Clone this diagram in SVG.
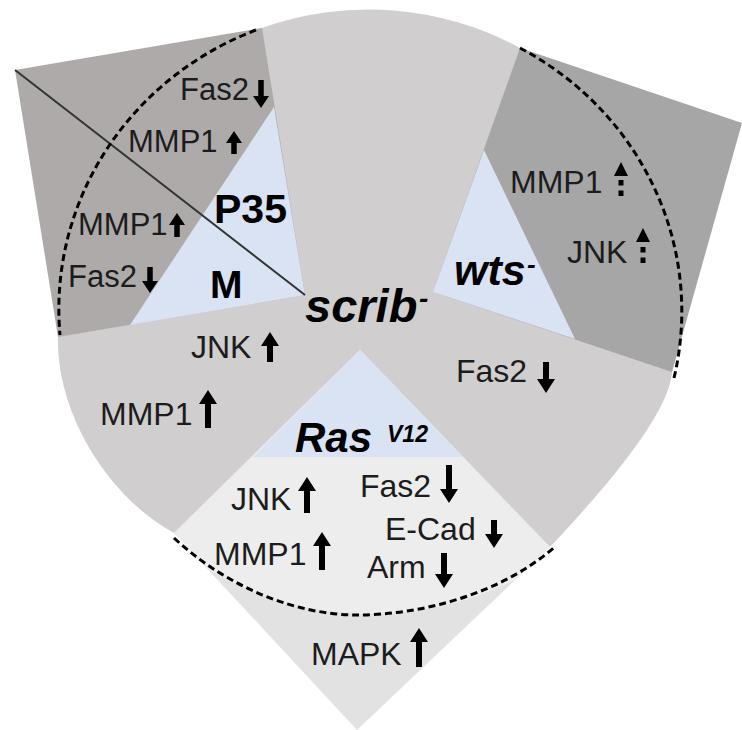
<svg xmlns="http://www.w3.org/2000/svg" width="742" height="730" viewBox="0 0 742 730">
<style>
.lg{fill:#d0cece}
.dkw{fill:#aeaaaa}
.dkn{fill:#a6a6a6}
.bl{fill:#dae3f3}
.lab{font-family:"Liberation Sans",Arial,sans-serif;font-size:32px;fill:#1c1c1c}
.sm{font-size:31px}
.bi{font-family:"Liberation Sans",Arial,sans-serif;font-weight:bold;font-style:italic;fill:#000}
.bd{font-family:"Liberation Sans",Arial,sans-serif;font-weight:bold;fill:#000}
.arr{fill:#000}
.dash{fill:none;stroke:#000;stroke-width:3;stroke-dasharray:7 4}
</style>
<defs>
<clipPath id="ell"><ellipse cx="371" cy="314" rx="311" ry="300"/></clipPath>
</defs>
<rect width="742" height="730" fill="#fff"/>

<g id="scrib">
<path class="lg" d="M262,28 A311 305 0 0 1 520,48 L672,372 Q669,421 550,547 L357,640 L174,533 C105,495 56,410 58,337 Z"/>
<text class="bi" x="305" y="322" font-size="47">scrib<tspan x="419" dy="-14" font-size="28">-</tspan></text>
<text class="lab" x="191" y="358">JNK</text>
<path class="arr" d="M270,332 L279,346 L273,346 L273,362 L267,362 L267,346 L261,346 Z"/>
<text class="lab" x="100" y="425">MMP1</text>
<path class="arr" d="M208,390 L217,404 L211,404 L211,428 L205,428 L205,404 L199,404 Z"/>
<text class="lab" x="456" y="382">Fas2</text>
<path class="arr" d="M543,362 L549,362 L549,379 L555,379 L546,393 L537,379 L543,379 Z"/>
</g>

<g id="petal-p35-m">
<polygon class="dkw" points="15,70 262,28 305,295 58,337"/>
<polygon class="bl" points="274,107 305,295 130,325"/>
<line x1="15" y1="70" x2="305" y2="295" stroke="#333" stroke-width="2"/>
<text class="bd" x="214" y="223" font-size="41">P35</text>
<text class="bd" x="210" y="298" font-size="39">M</text>
<text class="lab sm" x="180" y="100">Fas2</text>
<path class="arr" d="M258.25,80 L263.75,80 L263.75,96 L269,96 L261,108 L253,96 L258.25,96 Z"/>
<text class="lab sm" x="128" y="152">MMP1</text>
<path class="arr" d="M234,131 L242,143 L236.75,143 L236.75,154 L231.25,154 L231.25,143 L226,143 Z"/>
<text class="lab sm" x="78" y="235">MMP1</text>
<path class="arr" d="M177,213 L185,225 L179.75,225 L179.75,237 L174.25,237 L174.25,225 L169,225 Z"/>
<text class="lab sm" x="68" y="287">Fas2</text>
<path class="arr" d="M147.25,267 L152.75,267 L152.75,281 L158,281 L150,293 L142,281 L147.25,281 Z"/>
</g>

<g id="petal-wts">
<polygon class="dkn" points="433,292 520,48 742,123 672,372"/>
<polygon class="bl" points="433,292 484,150 575,339"/>
<text class="bi" x="454" y="285" font-size="43">wts<tspan x="527" dy="-12" font-size="26">-</tspan></text>
<text class="lab" x="510" y="193">MMP1</text>
<path class="arr" d="M621,162 L628,176 L614,176 Z"/>
<rect class="arr" x="618.5" y="180" width="5" height="5.5"/>
<rect class="arr" x="618.5" y="190.5" width="5" height="5.5"/>
<text class="lab" x="567" y="263">JNK</text>
<path class="arr" d="M643,228 L650,242 L636,242 Z"/>
<rect class="arr" x="640.5" y="247" width="5" height="5.5"/>
<rect class="arr" x="640.5" y="257.5" width="5" height="5.5"/>
</g>

<g id="petal-ras">
<polygon fill="#e2e2e2" points="360,350 550,547 357,730 174,533"/>
<polygon fill="#ededed" clip-path="url(#ell)" points="360,350 550,547 357,730 174,533"/>
<polygon class="bl" points="360,350 463,457 253,457"/>
<text class="bi" x="295" y="452" font-size="42">Ras<tspan x="387" y="442" font-size="23">V12</tspan></text>
<text class="lab" x="231" y="510">JNK</text>
<path class="arr" d="M307,477 L316,491 L310,491 L310,513 L304,513 L304,491 L298,491 Z"/>
<text class="lab" x="214" y="565">MMP1</text>
<path class="arr" d="M322,532 L331,546 L325,546 L325,570 L319,570 L319,546 L313,546 Z"/>
<text class="lab" x="360" y="497">Fas2</text>
<path class="arr" d="M446,465 L452,465 L452,489 L458,489 L449,503 L440,489 L446,489 Z"/>
<text class="lab" x="385" y="540">E-Cad</text>
<path class="arr" d="M491,520 L497,520 L497,534 L503,534 L494,548 L485,534 L491,534 Z"/>
<text class="lab" x="367" y="578">Arm</text>
<path class="arr" d="M441,553 L447,553 L447,574 L453,574 L444,588 L435,574 L441,574 Z"/>
<text class="lab" x="311" y="665">MAPK</text>
<path class="arr" d="M419,628 L428,642 L422,642 L422,667 L416,667 L416,642 L410,642 Z"/>
</g>

<g id="connectors">
<path class="dash" d="M256,30 A311 300 0 0 0 60,335"/>
<path class="dash" d="M520,48 A311 300 0 0 1 674,378"/>
<path class="dash" d="M174,538 C230,590 300,615 357,615 C420,615 500,595 556,546"/>
</g>
</svg>
